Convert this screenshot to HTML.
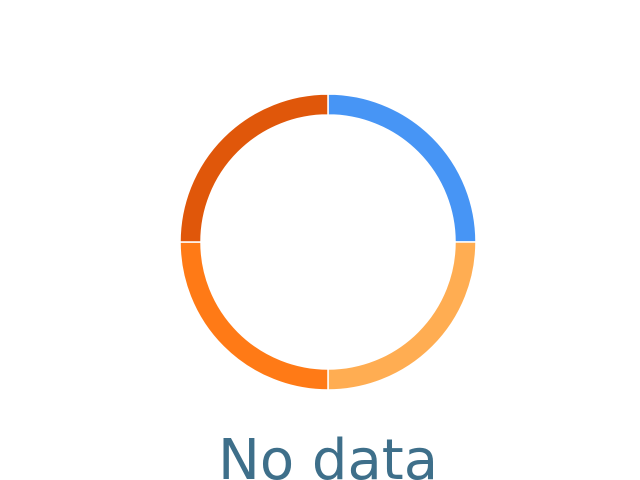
<!DOCTYPE html>
<html><head><meta charset="utf-8"><style>
html,body{margin:0;padding:0;background:#fff;width:640px;height:480px;overflow:hidden}
</style></head><body>
<svg id="chart" width="640" height="480">
<g id="slices"></g>
<text x="328" y="479" text-anchor="middle" font-family="DejaVu Sans, Liberation Sans, sans-serif" font-size="56" fill="#3e6f8a">No data</text>
</svg>
<script>
const categories = ["A","B","C","D"];
const values = [1,1,1,1];
const colors = ["#4795f5","#ffad52","#ff7a16","#e0570a"];
const cx=328, cy=242, R=148, r=127;
const g=document.getElementById('slices');
const total=values.reduce((a,b)=>a+b,0);
let acc=0;
function pt(rad,a){return [cx+rad*Math.sin(a), cy-rad*Math.cos(a)];}
values.forEach((v,i)=>{
  const a0=acc/total*2*Math.PI; acc+=v; const a1=acc/total*2*Math.PI;
  const large=(a1-a0)>Math.PI?1:0;
  const [x0,y0]=pt(R,a0),[x1,y1]=pt(R,a1),[x2,y2]=pt(r,a1),[x3,y3]=pt(r,a0);
  const p=document.createElementNS('http://www.w3.org/2000/svg','path');
  p.setAttribute('d',`M${x0},${y0}A${R},${R} 0 ${large} 1 ${x1},${y1}L${x2},${y2}A${r},${r} 0 ${large} 0 ${x3},${y3}Z`);
  p.setAttribute('fill',colors[i%colors.length]);
  p.setAttribute('stroke','#fff');
  p.setAttribute('stroke-width','1.5');
  
  
  g.appendChild(p);
});
</script>
</body></html>
